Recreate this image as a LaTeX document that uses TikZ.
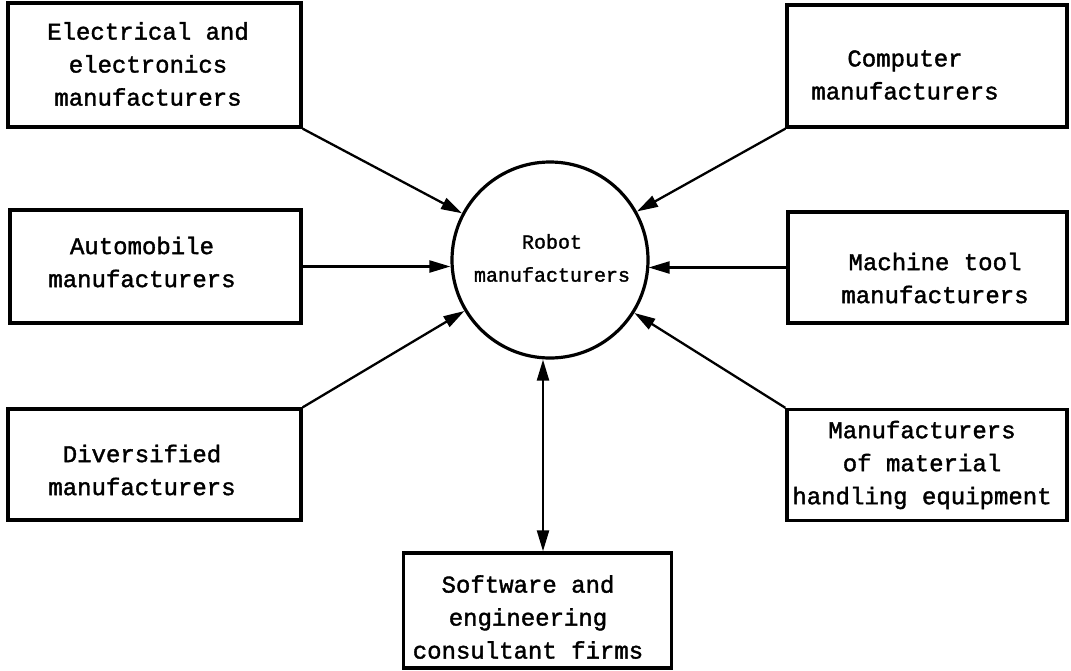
\documentclass[tikz,border=0pt]{standalone}
\usepackage{fontspec}
\setmainfont{Liberation Mono}[FakeBold=1.6,AutoFakeBold=1.6]
\usetikzlibrary{arrows.meta}
\begin{document}
\begin{tikzpicture}[x=1pt,y=-1pt,
  box/.style={draw,line width=3.4pt,minimum width=#1,inner sep=0pt},
  lbl/.style={align=center,font=\bfseries\fontsize{24}{33}\selectfont,inner sep=0pt},
  feed/.style={line width=2.3pt,-{Triangle[length=21pt,width=12pt]}},
  both/.style={line width=2.3pt,{Triangle[length=21pt,width=12pt]}-{Triangle[length=21pt,width=12pt]}}]
\useasboundingbox (0,0) rectangle (1071,670);

% central circle
\node[draw,circle,line width=3.2pt,minimum size=196pt,inner sep=0pt] (robot) at (550,260) {};
\node[align=center,font=\bfseries\fontsize{20}{33}\selectfont,inner sep=0pt] (robotlbl) at (552,258) {Robot\\manufacturers};

% supplier boxes, left column
\node[box=293pt,minimum height=124pt] (elec) at (154.5,65) {};
\node[lbl] (elecl) at (148,64) {Electrical and\\electronics\\manufacturers};
\node[box=291pt,minimum height=113pt] (auto) at (155.5,266.5) {};
\node[lbl] (autol) at (142,262) {Automobile\\manufacturers};
\node[box=293pt,minimum height=111pt] (div) at (154.5,464.5) {};
\node[lbl] (divl) at (142,470) {Diversified\\manufacturers};

% supplier boxes, right column
\node[box=280pt,minimum height=122pt] (comp) at (927,66) {};
\node[lbl] (compl) at (905,75) {Computer\\manufacturers};
\node[box=279pt,minimum height=111pt] (mach) at (927.5,267.5) {};
\node[lbl] (machl) at (935,278) {Machine tool\\manufacturers};
\node[box=280pt,minimum height=111pt] (mat) at (927,465) {};
\node[lbl] (matl) at (922,465) {Manufacturers\\of material\\handling equipment};

% bottom box
\node[box=268pt,minimum height=115pt] (soft) at (537.5,610.5) {};
\node[lbl] (softl) at (528,617) {Software and\\engineering\\consultant firms};

% connectors
\draw[feed] (elec.south east) -- (robot);
\draw[feed] (auto.east) -- (auto.east -| robot.west);
\draw[feed] (div.north east) -- (robot);
\draw[feed] (comp.south west) -- (robot);
\draw[feed] (mach.west) -- ([xshift=-1pt]mach.west -| robot.east);
\draw[feed] (mat.north west) -- (robot);
\draw[both] ([xshift=-7pt]robot.south) -- ([xshift=-7pt]robot.south |- soft.north);
\end{tikzpicture}
\end{document}
